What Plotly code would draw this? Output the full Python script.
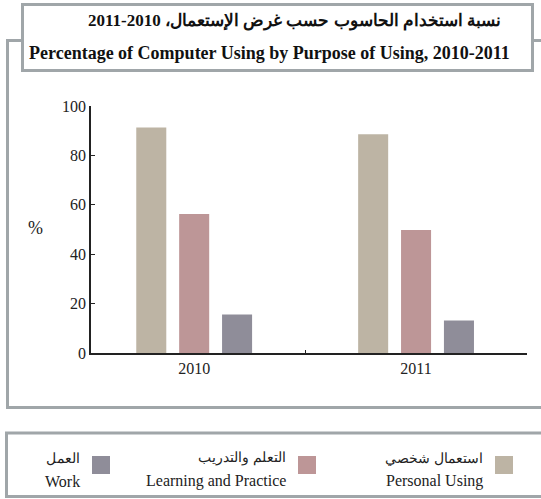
import plotly.graph_objects as go

# ---- data ----
years = ["2010", "2011"]
series_en = ["Personal Using", "Learning and Practice", "Work"]
series_ar = ["استعمال شخصي", "التعلم والتدريب", "العمل"]
personal = [91.3, 88.6]
learning = [56.3, 49.8]
work = [15.6, 13.2]
y_ticks = [0, 20, 40, 60, 80, 100]
title_ar = "نسبة استخدام الحاسوب حسب غرض الإستعمال، 2010-2011"
title_en = "Percentage of Computer Using by Purpose of Using, 2010-2011"
y_label = "%"

# ---- styles / layout ----
colors = ["#bdb4a4", "#bd9697", "#8f8d99"]
frame_col = "#a0a6a9"
FONT = "Liberation Serif, Times New Roman, DejaVu Serif, serif"
W, H = 541, 499
L, R, T, B = 91, 14, 106, 146
PW, PH = W - L - R, H - T - B


def xp(px):
    return (px - L) / PW


def yp(py):
    return (H - B - py) / PH


fig = go.Figure()
for name, vals, col in zip(series_en, [personal, learning, work], colors):
    fig.add_trace(go.Bar(x=years, y=vals, name=name, marker_color=col,
                         marker_line_width=0, showlegend=False))

shapes = []
# chart frame
shapes.append(dict(type="rect", xref="paper", yref="paper", layer="below",
                   x0=xp(7.5), x1=xp(560), y0=yp(40.5), y1=yp(407.5),
                   line=dict(color=frame_col, width=3), fillcolor="white"))
# title box
shapes.append(dict(type="rect", xref="paper", yref="paper", layer="below",
                   x0=xp(22.5), x1=xp(532.5), y0=yp(4.5), y1=yp(70.5),
                   line=dict(color=frame_col, width=3), fillcolor="white"))
# legend box
shapes.append(dict(type="rect", xref="paper", yref="paper", layer="below",
                   x0=xp(6.5), x1=xp(560), y0=yp(433), y1=yp(496.5),
                   line=dict(color=frame_col, width=3), fillcolor="white"))

annotations = [
    dict(text="<b>" + title_ar + "</b>", xref="paper", yref="paper",
         x=xp(294), y=yp(21), xanchor="center", yanchor="middle", showarrow=False,
         font=dict(family=FONT, size=17, color="#111")),
    dict(text="<b>" + title_en + "</b>", xref="paper", yref="paper",
         x=xp(269), y=yp(53), xanchor="center", yanchor="middle", showarrow=False,
         font=dict(family=FONT, size=18, color="#111")),
    dict(text=y_label, xref="paper", yref="paper", x=xp(35), y=yp(228),
         xanchor="center", yanchor="middle", showarrow=False,
         font=dict(family=FONT, size=18, color="#222")),
]

# custom legend (text left of square, right-to-left order)
sq_left = [495, 298, 92]
for en, ar, col, sx in zip(series_en, series_ar, colors, sq_left):
    shapes.append(dict(type="rect", xref="paper", yref="paper",
                       x0=xp(sx), x1=xp(sx + 18), y0=yp(456), y1=yp(474),
                       line=dict(width=0), fillcolor=col))
    annotations.append(dict(text=ar, xref="paper", yref="paper", x=xp(sx - 10),
                            y=yp(458), xanchor="right", yanchor="middle",
                            showarrow=False,
                            font=dict(family=FONT, size=14, color="#222")))
    annotations.append(dict(text=en, xref="paper", yref="paper", x=xp(sx - 10),
                            y=yp(481), xanchor="right", yanchor="middle",
                            showarrow=False,
                            font=dict(family=FONT, size=16, color="#222")))

fig.update_layout(
    width=W, height=H,
    margin=dict(l=L, r=R, t=T, b=B, pad=0),
    paper_bgcolor="white", plot_bgcolor="white",
    barmode="group", bargap=0.42, bargroupgap=0.30,
    font=dict(family=FONT, size=16, color="#222"),
    shapes=shapes, annotations=annotations,
    showlegend=False,
)
fig.update_xaxes(type="category", range=[-0.465, 1.5], showline=True,
                 linecolor="#222", linewidth=1.5, ticks="inside", ticklen=3,
                 tickson="boundaries", tickcolor="#222", showgrid=False,
                 tickfont=dict(family=FONT, size=16, color="#222"))
fig.update_yaxes(range=[0, 100], tickvals=y_ticks, showline=True,
                 linecolor="#222", linewidth=1.5, ticks="inside", ticklen=4,
                 tickcolor="#222", showgrid=False, zeroline=False,
                 tickfont=dict(family=FONT, size=16, color="#222"))

fig.write_html("out.html", config={"displayModeBar": False},
               post_script="document.body.style.margin='0';"
                           "document.body.style.overflow='hidden';")
